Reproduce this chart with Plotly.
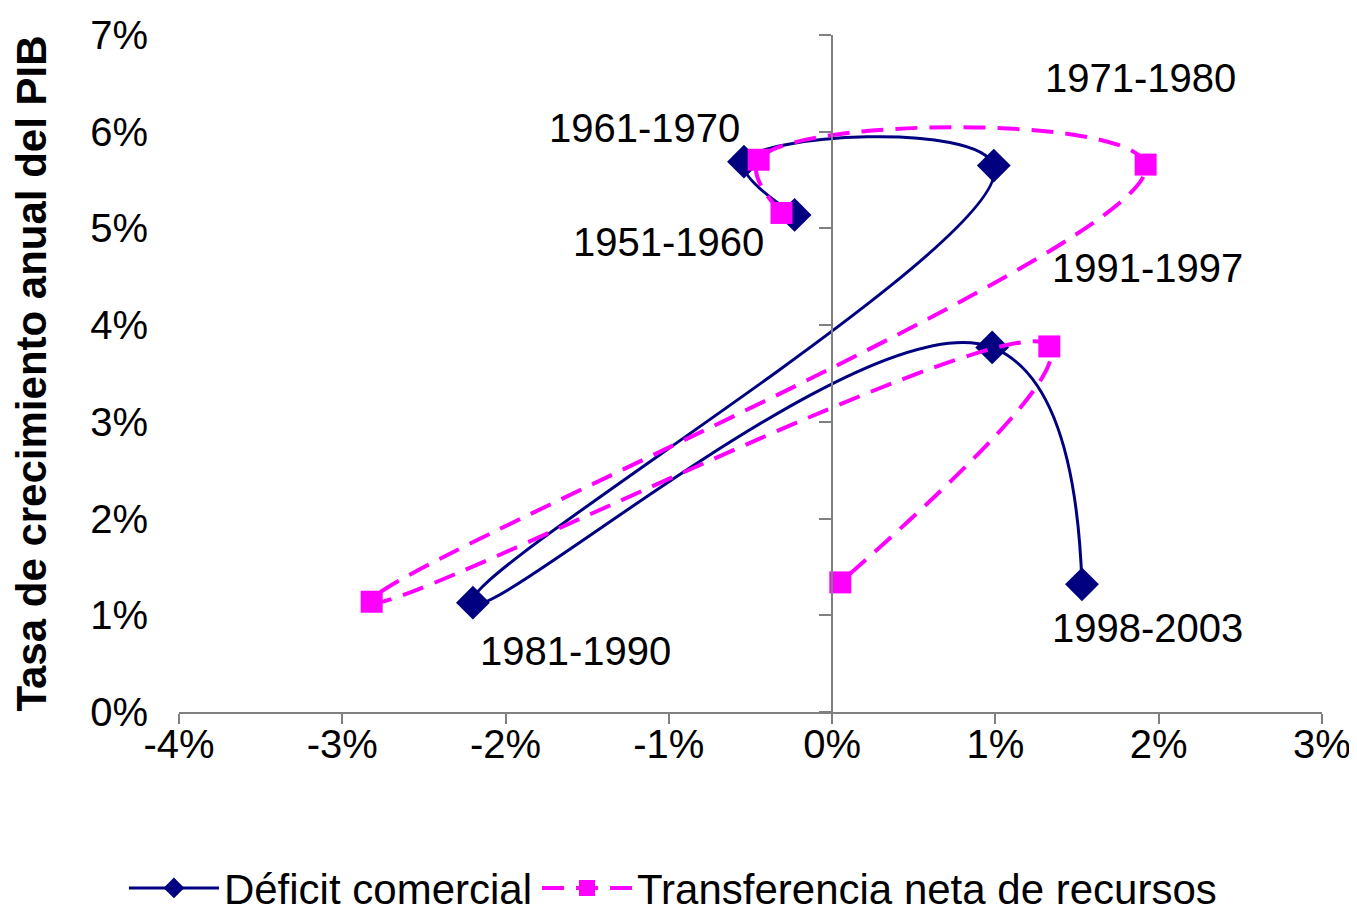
import plotly.graph_objects as go

periods = ["1951-1960", "1961-1970", "1971-1980", "1981-1990", "1991-1997", "1998-2003"]

deficit_x = [-0.0023, -0.0054, 0.0099, -0.0220, 0.0098, 0.0153]
deficit_y = [0.0514, 0.0569, 0.0565, 0.0113, 0.0377, 0.0132]

transfer_x = [-0.0031, -0.0045, 0.0192, -0.0282, 0.0133, 0.0005]
transfer_y = [0.0516, 0.0571, 0.0566, 0.0114, 0.0378, 0.0134]

x_ticks = [-0.04, -0.03, -0.02, -0.01, 0.0, 0.01, 0.02, 0.03]
x_tick_labels = ["-4%", "-3%", "-2%", "-1%", "0%", "1%", "2%", "3%"]
y_ticks = [0.0, 0.01, 0.02, 0.03, 0.04, 0.05, 0.06, 0.07]
y_tick_labels = ["0%", "1%", "2%", "3%", "4%", "5%", "6%", "7%"]

label_pos = {
    "1951-1960": (-0.0100, 0.0486),
    "1961-1970": (-0.0115, 0.0604),
    "1971-1980": (0.0189, 0.0656),
    "1981-1990": (-0.0157, 0.0063),
    "1991-1997": (0.0193, 0.0459),
    "1998-2003": (0.0193, 0.0087),
}

FONT = "Liberation Sans, Arial, sans-serif"
NAVY = "#000080"
MAGENTA = "#FF00FF"
GRAY = "#808080"

fig = go.Figure()

fig.add_trace(go.Scatter(
    x=deficit_x, y=deficit_y, mode="lines+markers", name="Déficit comercial",
    line=dict(color=NAVY, width=3, shape="spline", smoothing=1.3),
    marker=dict(symbol="diamond", size=26, color=NAVY),
))
fig.add_trace(go.Scatter(
    x=transfer_x, y=transfer_y, mode="lines+markers", name="Transferencia neta de recursos",
    line=dict(color=MAGENTA, width=4, dash="22px,12px", shape="spline", smoothing=1.3),
    marker=dict(symbol="square", size=22, color=MAGENTA),
))
# invisible trace to carry the central y axis
fig.add_trace(go.Scatter(x=[0], y=[0], yaxis="y2", mode="markers",
                         marker=dict(opacity=0), showlegend=False, hoverinfo="skip"))

for p in periods:
    px_, py_ = label_pos[p]
    fig.add_annotation(x=px_, y=py_, xref="x", yref="y", text=p, showarrow=False,
                       font=dict(family=FONT, size=40, color="black"))

fig.update_layout(
    width=1357, height=913,
    margin=dict(l=171, r=43, t=27, b=209),
    paper_bgcolor="white", plot_bgcolor="white",
    font=dict(family=FONT, size=40, color="black"),
    xaxis=dict(
        range=[-0.04, 0.03], tickvals=x_ticks, ticktext=x_tick_labels,
        showgrid=False, zeroline=False, showline=True, linecolor=GRAY, linewidth=1.5,
        ticks="outside", ticklen=10, tickcolor=GRAY, tickwidth=1.5,
        ticklabelstandoff=-14,
        tickfont=dict(family=FONT, size=40), fixedrange=True, automargin=False,
    ),
    yaxis=dict(
        range=[0, 0.07], tickvals=y_ticks, ticktext=y_tick_labels,
        showgrid=False, zeroline=False, showline=False,
        ticks="outside", ticklen=22, tickcolor="rgba(0,0,0,0)",
        tickfont=dict(family=FONT, size=40), automargin=False,
        title=dict(text="<b>Tasa de crecimiento anual del PIB</b>",
                   font=dict(family=FONT, size=42), standoff=38),
    ),
    yaxis2=dict(
        range=[0, 0.07], tickvals=y_ticks, overlaying="y", anchor="free",
        position=4 / 7, side="left", showticklabels=False, showgrid=False,
        zeroline=False, showline=True, linecolor=GRAY, linewidth=1.5,
        ticks="outside", ticklen=12, tickcolor=GRAY, tickwidth=1.5, automargin=False,
    ),
    legend=dict(
        orientation="h", xref="container", yref="container",
        x=0.49, xanchor="center", y=0.036, yanchor="middle",
        font=dict(family=FONT, size=42), itemwidth=90,
        bgcolor="rgba(0,0,0,0)",
    ),
    showlegend=True,
)

fig.write_html("out.html")
